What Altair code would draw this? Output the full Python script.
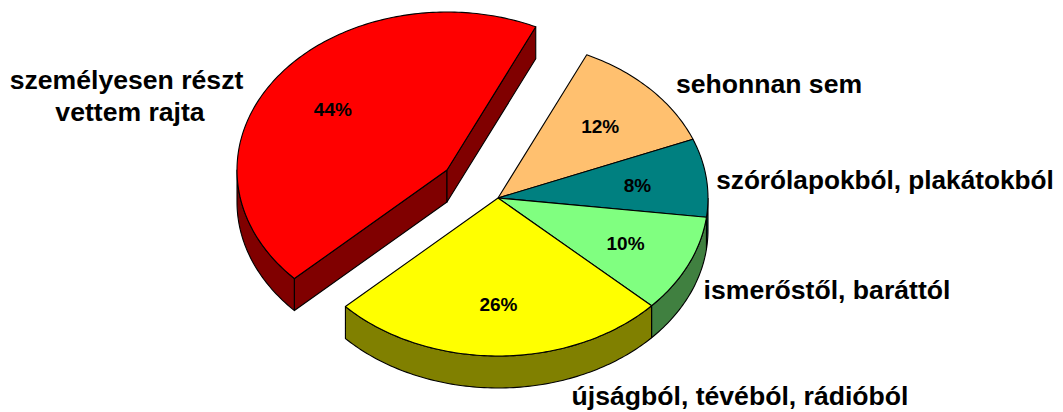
import numpy as np
import pandas as pd
import altair as alt

categories = ["személyesen részt vettem rajta", "sehonnan sem", "szórólapokból, plakátokból",
              "ismerőstől, baráttól", "újságból, tévéból, rádióból"]
values = [44, 12, 8, 10, 26]
top_colors = ["#FF0000", "#FFC06F", "#008080", "#80FF80", "#FFFF00"]
wall_colors = ["#800000", "#80603A", "#004040", "#408040", "#808000"]
label_lines = [
    ("személyesen részt", 126.5, 81, 26.6), ("vettem rajta", 130, 113, 26.6), ("sehonnan sem", 769, 85, 26.6),
    ("szórólapokból, plakátokból", 885, 181, 26.2), ("ismerőstől, baráttól", 827, 291, 26.6),
    ("újságból, tévéból, rádióból", 740, 397, 26.6),
]

# pie geometry (page pixels)
CX, CY, RX, RY, DEPTH = 498.0, 198.0, 210.0, 158.0, 32.0
START = 25.0          # angle of the first boundary of slice 2, clockwise from top
EXPLODE = (-51.0, -28.0)

rows, pct_rows = [], []
shape_id = 0


def add(poly, color):
    global shape_id
    for i, (px, py) in enumerate(poly):
        rows.append({"shape": shape_id, "i": i, "px": px, "py": py, "fill": color})
    shape_id += 1


def arc(a0, a1, dx=0.0, dy=0.0):
    n = max(2, int(abs(a1 - a0)) + 2)
    ts = np.radians(np.linspace(a0, a1, n))
    return [(CX + dx + RX * np.sin(t), CY + dy - RY * np.cos(t)) for t in ts]


# angular extents: red ends at START, then clockwise round the pie
order = [1, 2, 3, 4, 0]
ang = START
spans = {}
for k in order:
    sweep = values[k] * 3.6
    spans[k] = (ang, ang + sweep)
    ang += sweep

tops = []
for k in order:
    a0, a1 = spans[k]
    dx, dy = EXPLODE if k == 0 else (0.0, 0.0)
    apex = (CX + dx, CY + dy)
    # side wall: the front half only
    w0, w1 = max(a0, 90.0), min(a1, 270.0)
    if w1 > w0:
        upper = arc(w0, w1, dx, dy)
        lower = [(x, y + DEPTH) for x, y in reversed(upper)]
        add(upper + lower + upper[:1], wall_colors[k])
    if k == 0:
        # cut faces of the pulled-out slice
        for a in (a0, a1):
            edge = arc(a, a, dx, dy)[0]
            add([apex, edge, (edge[0], edge[1] + DEPTH), (apex[0], apex[1] + DEPTH), apex], wall_colors[k])
    tops.append(([apex] + arc(a0, a1, dx, dy) + [apex], top_colors[k]))
    mid = np.radians((a0 + a1) / 2)
    pct_rows.append({"px": apex[0] + 0.67 * RX * np.sin(mid), "py": apex[1] - 0.67 * RY * np.cos(mid) + 1.5,
                     "t": f"{values[k]}%"})

for poly, c in tops:
    add(poly, c)

df = pd.DataFrame(rows)
W, H = 1047, 404
xs = alt.Scale(domain=[8, 8 + W], nice=False, zero=False)
ys = alt.Scale(domain=[8 + H, 8], nice=False, zero=False)

shapes = alt.Chart(df).mark_line(filled=True, stroke="black", strokeWidth=1.1, strokeJoin="round").encode(
    x=alt.X("px:Q", scale=xs, axis=None),
    y=alt.Y("py:Q", scale=ys, axis=None),
    detail="shape:N",
    order="i:Q",
    fill=alt.Fill("fill:N", scale=None),
)
pct = alt.Chart(pd.DataFrame(pct_rows)).mark_text(
    font="Liberation Sans", fontWeight="bold", fontSize=19, color="black", baseline="middle", align="center"
).encode(x=alt.X("px:Q", scale=xs, axis=None), y=alt.Y("py:Q", scale=ys, axis=None), text="t:N")
lab = alt.Chart(pd.DataFrame(label_lines, columns=["t", "px", "py", "fs"])).mark_text(
    font="Liberation Sans", fontWeight="bold", color="black", baseline="middle", align="center"
).encode(
    x=alt.X("px:Q", scale=xs, axis=None), y=alt.Y("py:Q", scale=ys, axis=None), text="t:N",
    size=alt.Size("fs:Q", scale=None),
)

chart = (shapes + pct + lab).properties(width=W, height=H, padding=0, autosize=alt.AutoSizeParams(type="none")).configure_view(stroke=None)
chart.save("out.html", embed_options={"renderer": "svg", "actions": False})
